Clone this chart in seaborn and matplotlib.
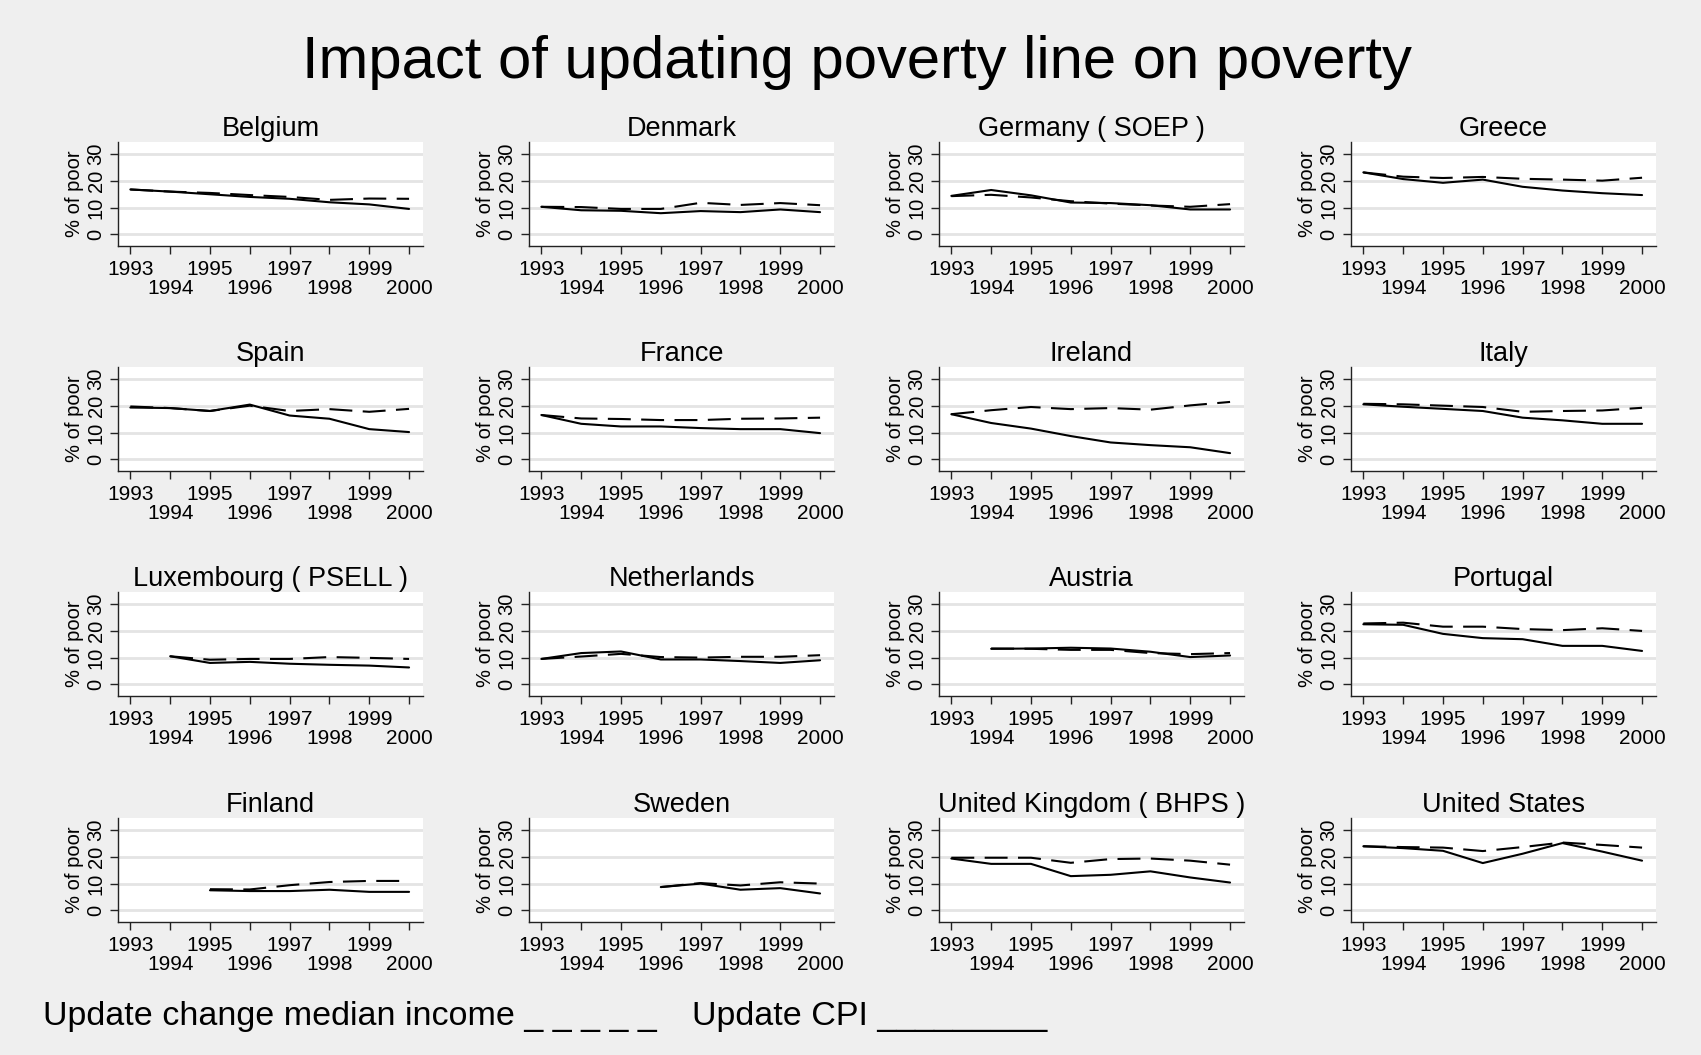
import numpy as np
import pandas as pd
import matplotlib
matplotlib.use("Agg")
import matplotlib.pyplot as plt
import seaborn as sns

years = [1993, 1994, 1995, 1996, 1997, 1998, 1999, 2000]
countries = [
    "Belgium", "Denmark", "Germany ( SOEP )", "Greece",
    "Spain", "France", "Ireland", "Italy",
    "Luxembourg ( PSELL )", "Netherlands", "Austria", "Portugal",
    "Finland", "Sweden", "United Kingdom ( BHPS )", "United States",
]

# % of poor, poverty line updated with the change in median income (dashed)
median_update = [
    [16.8, 16.0, 15.5, 14.7, 14.0, 12.9, 13.4, 13.3],
    [10.3, 10.2, 9.5, 9.5, 11.8, 11.0, 11.7, 10.9],
    [14.3, 14.8, 13.8, 12.4, 11.5, 10.8, 10.3, 11.3],
    [23.2, 21.6, 21.1, 21.5, 20.8, 20.5, 20.1, 21.2],
    [19.8, 19.2, 18.1, 20.1, 18.1, 18.8, 17.8, 18.9],
    [16.6, 15.3, 15.1, 14.7, 14.7, 15.2, 15.3, 15.6],
    [16.9, 18.4, 19.6, 18.8, 19.2, 18.6, 20.2, 21.5],
    [20.8, 20.6, 20.1, 19.6, 17.8, 18.1, 18.3, 19.3],
    [None, 10.5, 9.2, 9.5, 9.5, 10.2, 9.9, 9.5],
    [9.5, 10.4, 11.4, 10.2, 10.0, 10.3, 10.3, 10.9],
    [None, 13.4, 13.3, 12.9, 12.9, 11.7, 11.3, 11.7],
    [22.8, 23.1, 21.6, 21.6, 20.7, 20.3, 21.0, 20.0],
    [None, None, 7.9, 7.8, 9.4, 10.6, 11.0, 11.0],
    [None, None, None, 8.7, 10.2, 9.3, 10.5, 10.0],
    [19.7, 19.7, 19.7, 17.8, 19.2, 19.4, 18.6, 17.1],
    [24.0, 23.7, 23.5, 22.2, 23.7, 25.4, 24.5, 23.5],
]

# % of poor, poverty line updated with the CPI (solid)
cpi_update = [
    [16.8, 16.0, 15.0, 14.0, 13.3, 12.0, 11.2, 9.5],
    [10.3, 9.0, 8.8, 7.9, 8.7, 8.3, 9.3, 8.3],
    [14.4, 16.6, 14.6, 11.9, 11.7, 10.9, 9.3, 9.3],
    [23.2, 20.7, 19.3, 20.5, 17.8, 16.4, 15.4, 14.7],
    [19.4, 19.2, 18.1, 20.5, 16.4, 15.2, 11.3, 10.2],
    [16.6, 13.3, 12.3, 12.3, 11.7, 11.3, 11.3, 9.8],
    [16.9, 13.6, 11.5, 8.7, 6.3, 5.3, 4.5, 2.3],
    [20.6, 19.7, 18.9, 18.1, 15.6, 14.6, 13.3, 13.3],
    [None, 10.5, 8.0, 8.4, 7.7, 7.3, 7.0, 6.3],
    [9.5, 11.7, 12.3, 9.3, 9.3, 8.7, 8.0, 9.0],
    [None, 13.3, 13.4, 13.7, 13.4, 12.2, 10.2, 10.8],
    [22.5, 22.3, 18.9, 17.3, 16.9, 14.4, 14.4, 12.5],
    [None, None, 7.5, 7.2, 7.2, 7.7, 6.9, 6.9],
    [None, None, None, 8.7, 10.0, 7.7, 8.3, 6.3],
    [19.4, 17.4, 17.4, 12.8, 13.3, 14.6, 12.3, 10.4],
    [24.0, 23.3, 22.3, 17.7, 21.2, 25.2, 22.0, 18.6],
]

y_ticks = [0, 10, 20, 30]

# long table: one row per country / year / updating method
rows = []
for c, med, cpi in zip(countries, median_update, cpi_update):
    for yr, m, p in zip(years, med, cpi):
        if m is not None:
            rows.append((c, yr, "median", m))
        if p is not None:
            rows.append((c, yr, "cpi", p))
df = pd.DataFrame(rows, columns=["country", "year", "method", "pct"])

BG = "#efefef"
sns.set_style("white")
plt.rcParams["font.family"] = ["Liberation Sans", "DejaVu Sans"]
plt.rcParams["text.color"] = "black"
plt.rcParams["axes.labelcolor"] = "black"
plt.rcParams["xtick.color"] = "black"
plt.rcParams["ytick.color"] = "black"

W, H = 1701, 1055
fig = plt.figure(figsize=(W / 100, H / 100), dpi=100, facecolor=BG)

col_left = [118, 529, 939, 1351]
row_top = [142, 367, 592, 818]
aw, ah = 305, 104

odd_years = [y for y in years if y % 2 == 1]
even_years = [y for y in years if y % 2 == 0]

for i, country in enumerate(countries):
    r, c = divmod(i, 4)
    l, t = col_left[c], row_top[r]
    ax = fig.add_axes([l / W, 1 - (t + ah) / H, aw / W, ah / H])
    ax.set_facecolor("white")
    sub = df[df["country"] == country]
    sns.lineplot(
        data=sub, x="year", y="pct", style="method",
        style_order=["median", "cpi"],
        dashes={"median": (11, 5), "cpi": ""},
        color="black", linewidth=1.5, legend=False, ax=ax,
    )
    ax.set_xlim(1992.69, 2000.35)
    ax.set_ylim(-4.4, 34.6)
    ax.set_yticks(y_ticks)
    ax.set_yticklabels([str(v) for v in y_ticks])
    for v in y_ticks:
        ax.axhline(v, color="#e4e4e4", linewidth=2, zorder=0)

    ax.set_xticks(odd_years)
    ax.set_xticklabels([str(y) for y in odd_years])
    ax.set_xticks(even_years, minor=True)
    ax.set_xticklabels([str(y) for y in even_years], minor=True)
    ax.tick_params(axis="x", which="major", length=6, width=1, pad=4,
                   labelsize=15, direction="out", color="#222222", bottom=True)
    ax.tick_params(axis="x", which="minor", length=6, width=1, pad=18,
                   labelsize=15, direction="out", color="#222222", bottom=True)
    ax.tick_params(axis="y", length=6, width=1, pad=3, labelsize=14.5,
                   direction="out", color="#222222", left=True,
                   labelrotation=90)
    for lab in ax.get_yticklabels():
        lab.set_va("center")

    ax.set_xlabel("")
    ax.set_ylabel("% of poor", fontsize=14.5, labelpad=2)
    ax.set_title(country, fontsize=19.5, pad=4)
    for s in ["top", "right"]:
        ax.spines[s].set_visible(False)
    for s in ["left", "bottom"]:
        ax.spines[s].set_color("#222222")
        ax.spines[s].set_linewidth(1)

fig.text(857 / W, 1 - 63 / H, "Impact of updating poverty line on poverty",
         ha="center", va="center", fontsize=43)
fig.text(43 / W, 1 - 1016 / H, "Update change median income _ _ _ _ _",
         ha="left", va="center", fontsize=24.5)
fig.text(692 / W, 1 - 1016 / H, "Update CPI _________",
         ha="left", va="center", fontsize=24.5)

fig.savefig("out.png", dpi=100, facecolor=BG)
